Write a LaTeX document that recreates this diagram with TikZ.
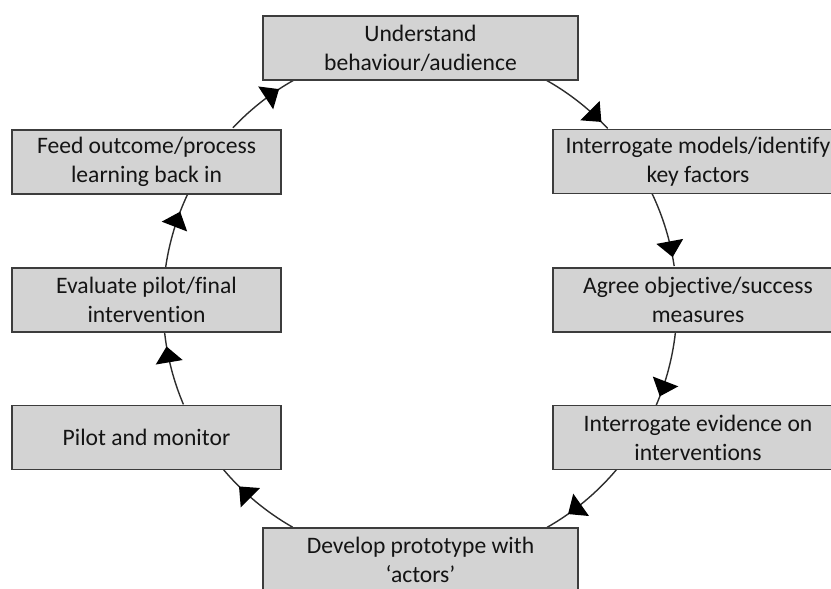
\documentclass[tikz,border=0pt]{standalone}
\usepackage{fontspec}
\setmainfont{Carlito}[Ligatures=NoCommon]
\usetikzlibrary{arrows.meta,decorations.markings,calc}
\definecolor{boxfill}{RGB}{211,211,211}
\definecolor{boxline}{RGB}{60,60,60}
\definecolor{txt}{RGB}{20,20,20}
\definecolor{linecol}{RGB}{45,45,45}
\begin{document}
\begin{tikzpicture}[x=1pt,y=-1pt,
  box/.style={draw=boxline, line width=1.4pt, fill=boxfill, minimum height=64pt,
    inner sep=0pt, align=center, text=txt, font=\fontsize{23.6}{29}\selectfont},
  lbox/.style={box, minimum width=269pt},
  rbox/.style={box, minimum width=290pt},
  cbox/.style={box, minimum width=315pt},
  conn/.style={draw=linecol, line width=1.4pt, postaction={decorate},
    decoration={markings, mark=at position -#1 with {\arrow[black]{Triangle[length=16pt,width=27pt]}}}}
]
\useasboundingbox (0,0) rectangle (831,589);
\clip (0,0) rectangle (831,589);
\coordinate (ctr) at (420,304);

% connectors (arcs of one ring)
\draw[conn=9pt]  ($(ctr)+(-61.2:257)$) arc[start angle=-61.2, end angle=-43.1, radius=257];
\draw[conn=9pt]  ($(ctr)+(-25.6:257)$) arc[start angle=-25.6, end angle=-8.5,  radius=257];
\draw[conn=10pt] ($(ctr)+(6.4:257)$)   arc[start angle=6.4,   end angle=23.3,  radius=257];
\draw[conn=25pt] ($(ctr)+(40.1:257)$)  arc[start angle=40.1,  end angle=60.4,  radius=257];
\draw[conn=23pt] ($(ctr)+(119.7:257)$) arc[start angle=119.7, end angle=139.9, radius=257];
\draw[conn=14pt] ($(ctr)+(157:257)$)   arc[start angle=157,   end angle=173.6, radius=257];
\draw[conn=19pt] ($(ctr)+(188.3:257)$) arc[start angle=188.3, end angle=205.3, radius=257];
\draw[conn=20pt] ($(ctr)+(223.3:257)$) arc[start angle=223.3, end angle=241.2, radius=257];

% boxes
\node[cbox] (und)   at (420.5,48)    {Understand\\behaviour/audience};
\node[rbox] (imod)  at (698,161.5)   {Interrogate models/identify\\key factors};
\node[rbox] (agree) at (698,300)     {Agree objective/success\\measures};
\node[rbox] (evid)  at (698,437.5)   {Interrogate evidence on\\interventions};
\node[cbox] (dev)   at (420.5,560)   {Develop prototype with\\‘actors’};
\node[lbox] (pilot) at (146.5,437.5) {Pilot and monitor};
\node[lbox] (eval)  at (146.5,300)   {Evaluate pilot/final\\intervention};
\node[lbox] (feed)  at (146.5,162)   {Feed outcome/process\\learning back in};
\end{tikzpicture}
\end{document}
